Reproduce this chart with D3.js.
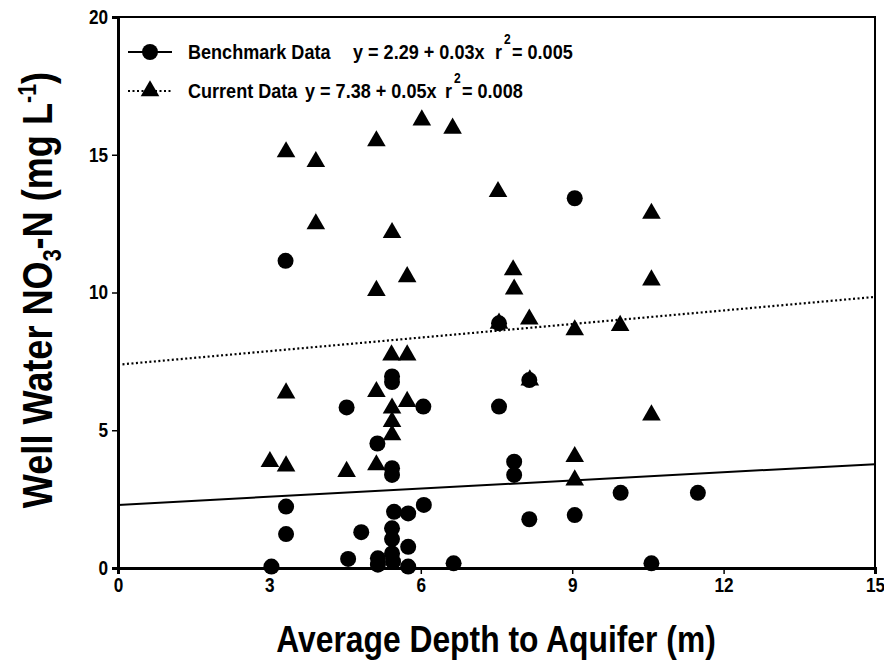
<!DOCTYPE html>
<html lang="en">
<head>
    <meta charset="UTF-8">
    <title>Well water nitrate vs depth to aquifer</title>
    <script src="https://cdn.jsdelivr.net/npm/d3@7"></script>
    <style>
        body { margin: 0; background: #fff; }
        text { font-family: "Liberation Sans", Arial, sans-serif; font-weight: bold; fill: #000; }
        .axis path, .axis line { stroke: #000; }
        .axis text { font-size: 20px; }
    </style>
</head>
<body>
    <div id="chart"></div>
    <script>
        // Benchmark data points (depth m, NO3-N mg/L)
        const benchmarkDepth = [3.04, 3.33, 3.33, 3.32, 4.53, 4.56, 4.82, 5.14, 5.15, 5.15,
            5.43, 5.43, 5.43, 5.43, 5.47, 5.43, 5.43, 5.43, 5.45, 5.75, 5.75, 5.75,
            6.05, 6.06, 6.65, 7.55, 7.55, 7.85, 7.85, 8.15, 8.15, 9.05, 9.05, 9.96, 10.57, 11.49];
        const benchmarkNO3 = [0.05, 1.23, 2.23, 11.15, 5.83, 0.33, 1.3, 4.52, 0.35, 0.12,
            6.95, 6.75, 3.62, 3.38, 2.04, 1.44, 1.05, 0.53, 0.23, 1.98, 0.77, 0.05,
            5.86, 2.29, 0.17, 5.86, 8.88, 3.86, 3.38, 6.82, 1.77, 13.42, 1.92, 2.73, 0.17, 2.73];

        // Current data points
        const currentDepth = [3.01, 3.33, 3.33, 3.33, 3.92, 3.92, 4.53, 5.12, 5.12, 5.12, 5.12,
            5.42, 5.73, 5.43, 5.43, 5.43, 5.73, 5.43, 5.73, 6.02, 6.63, 7.53, 7.55,
            7.83, 7.85, 8.15, 8.16, 9.05, 9.05, 9.05, 9.95, 10.57, 10.57, 10.57];
        const currentNO3 = [3.86, 3.7, 6.35, 15.1, 14.75, 12.49, 3.5, 3.74, 6.4, 10.07, 15.5,
            7.73, 7.73, 5.8, 5.31, 4.83, 6.04, 12.17, 10.57, 16.26, 15.96, 13.66, 8.88,
            10.82, 10.12, 9.03, 6.82, 8.64, 4.04, 3.19, 8.8, 12.87, 10.45, 5.55];

        // fitted lines as drawn (value at x = 0 and x = 15)
        const lineX = [0, 15];
        const benchmarkFit = [2.29, 3.77];
        const currentFit = [7.38, 9.84];

        const xTicks = [0, 3, 6, 9, 12, 15];
        const yTicks = [0, 5, 10, 15, 20];

        const legendLabels = ["Benchmark Data", "Current Data"];
        const legendEquations = ["y = 2.29 + 0.03x", "y = 7.38 + 0.05x"];
        const legendR2 = ["= 0.005", "= 0.008"];

        const width = 884, height = 664;
        const margin = { top: 17, right: 9, bottom: 96, left: 118 };
        const narrow = 0.86;   // the original type is a condensed sans

        const svg = d3.select("#chart").append("svg")
            .attr("width", width)
            .attr("height", height);

        const x = d3.scaleLinear().domain([0, 15]).range([margin.left, width - margin.right]);
        const y = d3.scaleLinear().domain([0, 20]).range([height - margin.bottom, margin.top]);

        // frame
        svg.append("rect")
            .attr("x", x(0)).attr("y", y(20))
            .attr("width", x(15) - x(0)).attr("height", y(0) - y(20))
            .attr("fill", "none").attr("stroke", "#000").attr("stroke-width", 2);

        svg.append("g").attr("class", "axis x")
            .attr("transform", `translate(0,${y(0)})`)
            .call(d3.axisBottom(x).tickValues(xTicks).tickSize(6).tickPadding(4));
        svg.append("g").attr("class", "axis y")
            .attr("transform", `translate(${x(0)},0)`)
            .call(d3.axisLeft(y).tickValues(yTicks).tickSize(6).tickPadding(4));
        svg.selectAll(".axis .domain").attr("stroke-width", 3);
        svg.selectAll(".axis .tick line").attr("stroke-width", 1.5);
        svg.selectAll(".axis.x text").attr("transform", `scale(${narrow},1)`);
        svg.selectAll(".axis.y text").attr("transform", `scale(${narrow},1)`).attr("x", -10 / narrow);

        // fit lines
        const line = d3.line().x(d => x(d[0])).y(d => y(d[1]));
        svg.append("path")
            .attr("d", line(lineX.map((v, i) => [v, benchmarkFit[i]])))
            .attr("fill", "none").attr("stroke", "#000").attr("stroke-width", 2);
        svg.append("path")
            .attr("d", line(lineX.map((v, i) => [v, currentFit[i]])))
            .attr("fill", "none").attr("stroke", "#000").attr("stroke-width", 2.2)
            .attr("stroke-dasharray", "2,2.5");

        const tri = d3.symbol(d3.symbolTriangle, 150);

        svg.append("g").selectAll("path")
            .data(currentDepth.map((d, i) => [d, currentNO3[i]]))
            .join("path")
            .attr("d", tri)
            .attr("transform", d => `translate(${x(d[0])},${y(d[1])})`)
            .attr("fill", "#000");

        svg.append("g").selectAll("circle")
            .data(benchmarkDepth.map((d, i) => [d, benchmarkNO3[i]]))
            .join("circle")
            .attr("cx", d => x(d[0]))
            .attr("cy", d => y(d[1]))
            .attr("r", 8)
            .attr("fill", "#000");

        // legend
        const legendRows = [52, 91];
        const eqX = [353, 305];
        const rX = [495, 445];
        function narrowText(g, xPos, yPos, size, str) {
            return g.append("text")
                .attr("transform", `translate(${xPos},${yPos}) scale(${narrow},1)`)
                .attr("dy", "0.35em")
                .style("font-size", size + "px")
                .text(str);
        }
        legendLabels.forEach((lab, i) => {
            const g = svg.append("g").attr("transform", `translate(0,${legendRows[i]})`);
            g.append("line").attr("x1", 128).attr("x2", 172).attr("y1", 0).attr("y2", 0)
                .attr("stroke", "#000").attr("stroke-width", 2)
                .attr("stroke-dasharray", i === 1 ? "2,2.5" : null);
            if (i === 0) {
                g.append("circle").attr("cx", 150).attr("cy", 0).attr("r", 8).attr("fill", "#000");
            } else {
                g.append("path").attr("d", tri).attr("transform", "translate(150,0)").attr("fill", "#000");
            }
            narrowText(g, 188, 0, 21, lab);
            narrowText(g, eqX[i], 0, 21, legendEquations[i]);
            narrowText(g, rX[i], 0, 21, "r");
            narrowText(g, rX[i] + 9, -13, 14, "2");
            narrowText(g, rX[i] + 17, 0, 21, legendR2[i]);
        });

        // axis titles
        svg.append("text")
            .attr("transform", `translate(496,652) scale(${narrow},1)`)
            .attr("text-anchor", "middle")
            .style("font-size", "37px")
            .text("Average Depth to Aquifer (m)");

        const yt = svg.append("text")
            .attr("transform", `translate(52,290) rotate(-90) scale(${narrow},1)`)
            .attr("text-anchor", "middle")
            .style("font-size", "42px");
        yt.append("tspan").text("Well Water NO");
        yt.append("tspan").attr("dy", 9).style("font-size", "25px").text("3");
        yt.append("tspan").attr("dy", -9).text("-N (mg L");
        yt.append("tspan").attr("dy", -16).style("font-size", "25px").text("-1");
        yt.append("tspan").attr("dy", 16).text(")");
    </script>
</body>
</html>
